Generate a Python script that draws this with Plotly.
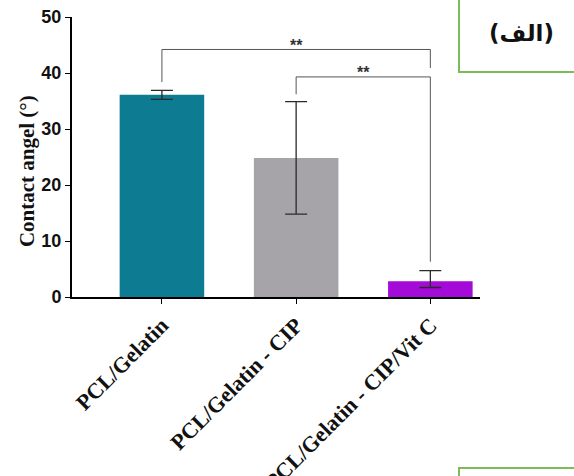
import plotly.graph_objects as go

categories = ["PCL/Gelatin", "PCL/Gelatin - CIP", "PCL/Gelatin - CIP/Vit C"]
values = [36.1, 24.8, 2.8]
err_plus = [0.8, 10.1, 1.9]
err_minus = [0.8, 10.0, 1.1]
colors = ["#0D7B91", "#A6A4A9", "#A40BD8"]
y_ticks = [0, 10, 20, 30, 40, 50]

# significance brackets: (x_left, x_right, y_top, y_left_end, y_right_end, label)
brackets = [
    (0, 2, 44.2, 38.4, 40.9, "**"),
    (1, 2, 39.3, 36.2, 6.3, "**"),
]

xs = list(range(len(categories)))

fig = go.Figure()
fig.add_trace(go.Bar(
    x=xs, y=values, width=0.63,
    marker=dict(color=colors, line=dict(width=0)),
    error_y=dict(type="data", array=err_plus, arrayminus=err_minus,
                 color="#2a2a2a", thickness=1.3, width=11),
    showlegend=False,
))

shapes = []
annotations = []
for xl, xr, yt, yl, yr, lab in brackets:
    shapes.append(dict(type="line", xref="x", yref="y", x0=xl, x1=xl, y0=yl, y1=yt,
                       line=dict(color="#555555", width=1)))
    shapes.append(dict(type="line", xref="x", yref="y", x0=xl, x1=xr, y0=yt, y1=yt,
                       line=dict(color="#555555", width=1)))
    shapes.append(dict(type="line", xref="x", yref="y", x0=xr, x1=xr, y0=yt, y1=yr,
                       line=dict(color="#555555", width=1)))
    annotations.append(dict(x=(xl + xr) / 2, y=yt + 0.8, xref="x", yref="y", text="<b>%s</b>" % lab,
                            showarrow=False, yanchor="middle", xanchor="center",
                            font=dict(family="Liberation Sans", size=16, color="#333333")))

# green framed boxes (right side decoration)
shapes.append(dict(type="rect", xref="paper", yref="paper", x0=0.9485, x1=1.26, y0=0.8036, y1=1.1,
                   line=dict(color="#7DBB5A", width=2), fillcolor="rgba(0,0,0,0)"))
shapes.append(dict(type="rect", xref="paper", yref="paper", x0=0.9485, x1=1.26, y0=-0.70, y1=-0.611,
                   line=dict(color="#7DBB5A", width=2), fillcolor="rgba(0,0,0,0)"))
annotations.append(dict(x=1.0170, y=0.943, xref="paper", yref="paper", text="<b>(الف)</b>",
                        showarrow=False, xanchor="left", yanchor="middle",
                        font=dict(family="DejaVu Sans", size=23, color="#111111")))
# y-axis title
annotations.append(dict(x=-0.110, y=0.45, xref="paper", yref="paper", text="<b>Contact angel (°)</b>",
                        showarrow=False, textangle=-90, xanchor="center", yanchor="middle",
                        font=dict(family="Liberation Serif", size=21, color="#111111")))

fig.update_layout(
    width=574, height=476,
    margin=dict(l=72, r=94, t=17, b=179),
    paper_bgcolor="white", plot_bgcolor="white",
    shapes=shapes, annotations=annotations,
    xaxis=dict(range=[-0.67, 2.37], tickvals=xs, ticktext=["<b>%s</b>" % c for c in categories],
               tickangle=-45, showline=True, linecolor="black", linewidth=1.5, automargin=False,
               ticks="outside", ticklen=5, tickcolor="black", showgrid=False, zeroline=False,
               tickfont=dict(family="Liberation Serif", size=22, color="#111111")),
    yaxis=dict(range=[0, 50], tickvals=y_ticks, showline=True, linecolor="black", linewidth=2,
               automargin=False,
               ticks="outside", ticklen=5, tickcolor="black", showgrid=False, zeroline=False,
               tickfont=dict(family="Liberation Sans", size=18, color="#111111", weight="bold")),
)

fig.write_html("out.html", config={"displayModeBar": False},
               post_script="document.body.style.margin='0';")
